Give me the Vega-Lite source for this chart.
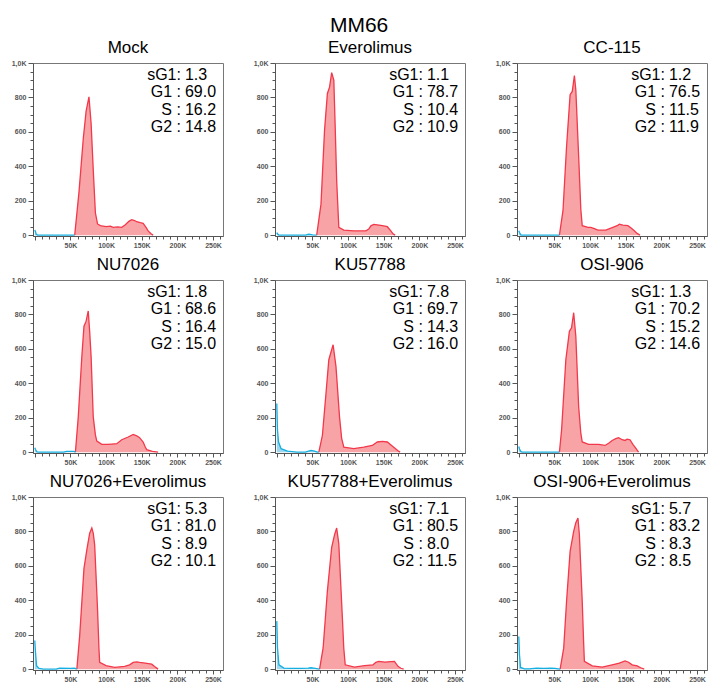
{
  "$schema": "https://vega.github.io/schema/vega-lite/v6.json",
  "title": {"text": "MM66", "fontSize": 21, "fontWeight": "normal", "font": "Liberation Sans", "anchor": "middle", "offset": 3, "color": "#000"},
  "padding": {"left": 10, "top": 14, "right": 8, "bottom": 5},
  "data": {"values": [
    {"p":"Mock","s":"G","x":56,"y":0},{"p":"Mock","s":"G","x":62,"y":250},{"p":"Mock","s":"G","x":68,"y":560},{"p":"Mock","s":"G","x":72,"y":720},{"p":"Mock","s":"G","x":76,"y":803},{"p":"Mock","s":"G","x":79,"y":650},{"p":"Mock","s":"G","x":82,"y":380},{"p":"Mock","s":"G","x":85,"y":130},{"p":"Mock","s":"G","x":88,"y":65},{"p":"Mock","s":"G","x":92,"y":55},{"p":"Mock","s":"G","x":100,"y":49},{"p":"Mock","s":"G","x":106,"y":52},{"p":"Mock","s":"G","x":110,"y":45},{"p":"Mock","s":"G","x":116,"y":48},{"p":"Mock","s":"G","x":122,"y":45},{"p":"Mock","s":"G","x":127,"y":60},{"p":"Mock","s":"G","x":132,"y":80},{"p":"Mock","s":"G","x":136,"y":90},{"p":"Mock","s":"G","x":140,"y":85},{"p":"Mock","s":"G","x":143,"y":78},{"p":"Mock","s":"G","x":148,"y":72},{"p":"Mock","s":"G","x":152,"y":68},{"p":"Mock","s":"G","x":156,"y":45},{"p":"Mock","s":"G","x":159,"y":25},{"p":"Mock","s":"G","x":163,"y":8},{"p":"Mock","s":"G","x":166,"y":0},
    {"p":"Mock","s":"D","x":0,"y":30},{"p":"Mock","s":"D","x":1,"y":20},{"p":"Mock","s":"D","x":2,"y":5},{"p":"Mock","s":"D","x":4,"y":0},{"p":"Mock","s":"D","x":56,"y":0},
    {"p":"Everolimus","s":"G","x":56,"y":0},{"p":"Everolimus","s":"G","x":62,"y":180},{"p":"Everolimus","s":"G","x":67,"y":610},{"p":"Everolimus","s":"G","x":71,"y":823},{"p":"Everolimus","s":"G","x":74,"y":860},{"p":"Everolimus","s":"G","x":77,"y":944},{"p":"Everolimus","s":"G","x":80,"y":900},{"p":"Everolimus","s":"G","x":82,"y":620},{"p":"Everolimus","s":"G","x":84,"y":317},{"p":"Everolimus","s":"G","x":87,"y":45},{"p":"Everolimus","s":"G","x":94,"y":29},{"p":"Everolimus","s":"G","x":108,"y":25},{"p":"Everolimus","s":"G","x":125,"y":25},{"p":"Everolimus","s":"G","x":129,"y":35},{"p":"Everolimus","s":"G","x":132,"y":54},{"p":"Everolimus","s":"G","x":136,"y":62},{"p":"Everolimus","s":"G","x":141,"y":60},{"p":"Everolimus","s":"G","x":148,"y":55},{"p":"Everolimus","s":"G","x":155,"y":49},{"p":"Everolimus","s":"G","x":160,"y":25},{"p":"Everolimus","s":"G","x":163,"y":8},{"p":"Everolimus","s":"G","x":166,"y":0},
    {"p":"Everolimus","s":"D","x":0,"y":15},{"p":"Everolimus","s":"D","x":1,"y":8},{"p":"Everolimus","s":"D","x":3,"y":0},{"p":"Everolimus","s":"D","x":40,"y":0},{"p":"Everolimus","s":"D","x":45,"y":5},{"p":"Everolimus","s":"D","x":50,"y":2},{"p":"Everolimus","s":"D","x":56,"y":0},
    {"p":"CC-115","s":"G","x":57,"y":0},{"p":"CC-115","s":"G","x":62,"y":142},{"p":"CC-115","s":"G","x":67,"y":513},{"p":"CC-115","s":"G","x":72,"y":816},{"p":"CC-115","s":"G","x":75,"y":835},{"p":"CC-115","s":"G","x":78,"y":927},{"p":"CC-115","s":"G","x":80,"y":845},{"p":"CC-115","s":"G","x":84,"y":455},{"p":"CC-115","s":"G","x":87,"y":150},{"p":"CC-115","s":"G","x":89,"y":55},{"p":"CC-115","s":"G","x":97,"y":45},{"p":"CC-115","s":"G","x":101,"y":45},{"p":"CC-115","s":"G","x":106,"y":38},{"p":"CC-115","s":"G","x":111,"y":29},{"p":"CC-115","s":"G","x":122,"y":29},{"p":"CC-115","s":"G","x":132,"y":45},{"p":"CC-115","s":"G","x":138,"y":55},{"p":"CC-115","s":"G","x":141,"y":64},{"p":"CC-115","s":"G","x":146,"y":58},{"p":"CC-115","s":"G","x":153,"y":55},{"p":"CC-115","s":"G","x":158,"y":40},{"p":"CC-115","s":"G","x":162,"y":25},{"p":"CC-115","s":"G","x":166,"y":10},{"p":"CC-115","s":"G","x":170,"y":0},
    {"p":"CC-115","s":"D","x":0,"y":25},{"p":"CC-115","s":"D","x":1,"y":15},{"p":"CC-115","s":"D","x":3,"y":0},{"p":"CC-115","s":"D","x":57,"y":0},
    {"p":"NU7026","s":"G","x":57,"y":0},{"p":"NU7026","s":"G","x":61,"y":205},{"p":"NU7026","s":"G","x":66,"y":556},{"p":"NU7026","s":"G","x":69,"y":732},{"p":"NU7026","s":"G","x":72,"y":761},{"p":"NU7026","s":"G","x":75,"y":820},{"p":"NU7026","s":"G","x":77,"y":700},{"p":"NU7026","s":"G","x":79,"y":556},{"p":"NU7026","s":"G","x":82,"y":205},{"p":"NU7026","s":"G","x":85,"y":100},{"p":"NU7026","s":"G","x":87,"y":64},{"p":"NU7026","s":"G","x":94,"y":45},{"p":"NU7026","s":"G","x":101,"y":45},{"p":"NU7026","s":"G","x":108,"y":47},{"p":"NU7026","s":"G","x":115,"y":49},{"p":"NU7026","s":"G","x":122,"y":72},{"p":"NU7026","s":"G","x":131,"y":88},{"p":"NU7026","s":"G","x":138,"y":103},{"p":"NU7026","s":"G","x":143,"y":95},{"p":"NU7026","s":"G","x":147,"y":84},{"p":"NU7026","s":"G","x":152,"y":59},{"p":"NU7026","s":"G","x":155,"y":30},{"p":"NU7026","s":"G","x":157,"y":14},{"p":"NU7026","s":"G","x":165,"y":5},{"p":"NU7026","s":"G","x":173,"y":0},
    {"p":"NU7026","s":"D","x":0,"y":25},{"p":"NU7026","s":"D","x":1,"y":15},{"p":"NU7026","s":"D","x":3,"y":2},{"p":"NU7026","s":"D","x":6,"y":0},{"p":"NU7026","s":"D","x":40,"y":0},{"p":"NU7026","s":"D","x":45,"y":4},{"p":"NU7026","s":"D","x":55,"y":4},{"p":"NU7026","s":"D","x":57,"y":0},
    {"p":"KU57788","s":"G","x":59,"y":0},{"p":"KU57788","s":"G","x":64,"y":98},{"p":"KU57788","s":"G","x":69,"y":341},{"p":"KU57788","s":"G","x":73,"y":537},{"p":"KU57788","s":"G","x":79,"y":624},{"p":"KU57788","s":"G","x":83,"y":498},{"p":"KU57788","s":"G","x":88,"y":205},{"p":"KU57788","s":"G","x":91,"y":80},{"p":"KU57788","s":"G","x":94,"y":29},{"p":"KU57788","s":"G","x":108,"y":20},{"p":"KU57788","s":"G","x":122,"y":29},{"p":"KU57788","s":"G","x":134,"y":39},{"p":"KU57788","s":"G","x":141,"y":59},{"p":"KU57788","s":"G","x":148,"y":62},{"p":"KU57788","s":"G","x":155,"y":59},{"p":"KU57788","s":"G","x":164,"y":29},{"p":"KU57788","s":"G","x":170,"y":8},{"p":"KU57788","s":"G","x":173,"y":0},
    {"p":"KU57788","s":"D","x":0,"y":283},{"p":"KU57788","s":"D","x":1,"y":127},{"p":"KU57788","s":"D","x":2.5,"y":59},{"p":"KU57788","s":"D","x":6,"y":20},{"p":"KU57788","s":"D","x":15,"y":6},{"p":"KU57788","s":"D","x":28,"y":0},{"p":"KU57788","s":"D","x":40,"y":0},{"p":"KU57788","s":"D","x":48,"y":10},{"p":"KU57788","s":"D","x":53,"y":6},{"p":"KU57788","s":"D","x":57,"y":0},{"p":"KU57788","s":"D","x":59,"y":0},
    {"p":"OSI-906","s":"G","x":57,"y":0},{"p":"OSI-906","s":"G","x":60,"y":127},{"p":"OSI-906","s":"G","x":66,"y":537},{"p":"OSI-906","s":"G","x":71,"y":702},{"p":"OSI-906","s":"G","x":74,"y":722},{"p":"OSI-906","s":"G","x":77,"y":810},{"p":"OSI-906","s":"G","x":80,"y":673},{"p":"OSI-906","s":"G","x":84,"y":263},{"p":"OSI-906","s":"G","x":87,"y":110},{"p":"OSI-906","s":"G","x":89,"y":59},{"p":"OSI-906","s":"G","x":98,"y":45},{"p":"OSI-906","s":"G","x":112,"y":45},{"p":"OSI-906","s":"G","x":121,"y":39},{"p":"OSI-906","s":"G","x":126,"y":52},{"p":"OSI-906","s":"G","x":131,"y":68},{"p":"OSI-906","s":"G","x":136,"y":78},{"p":"OSI-906","s":"G","x":140,"y":84},{"p":"OSI-906","s":"G","x":145,"y":72},{"p":"OSI-906","s":"G","x":149,"y":68},{"p":"OSI-906","s":"G","x":152,"y":75},{"p":"OSI-906","s":"G","x":156,"y":72},{"p":"OSI-906","s":"G","x":160,"y":45},{"p":"OSI-906","s":"G","x":163,"y":29},{"p":"OSI-906","s":"G","x":168,"y":0},
    {"p":"OSI-906","s":"D","x":0,"y":33},{"p":"OSI-906","s":"D","x":1,"y":18},{"p":"OSI-906","s":"D","x":3,"y":3},{"p":"OSI-906","s":"D","x":5,"y":0},{"p":"OSI-906","s":"D","x":57,"y":0},
    {"p":"NU7026+Everolimus","s":"G","x":59,"y":0},{"p":"NU7026+Everolimus","s":"G","x":63,"y":195},{"p":"NU7026+Everolimus","s":"G","x":69,"y":585},{"p":"NU7026+Everolimus","s":"G","x":73,"y":693},{"p":"NU7026+Everolimus","s":"G","x":77,"y":790},{"p":"NU7026+Everolimus","s":"G","x":80,"y":820},{"p":"NU7026+Everolimus","s":"G","x":82,"y":790},{"p":"NU7026+Everolimus","s":"G","x":84,"y":722},{"p":"NU7026+Everolimus","s":"G","x":88,"y":351},{"p":"NU7026+Everolimus","s":"G","x":90,"y":120},{"p":"NU7026+Everolimus","s":"G","x":91,"y":39},{"p":"NU7026+Everolimus","s":"G","x":100,"y":20},{"p":"NU7026+Everolimus","s":"G","x":112,"y":10},{"p":"NU7026+Everolimus","s":"G","x":126,"y":16},{"p":"NU7026+Everolimus","s":"G","x":133,"y":25},{"p":"NU7026+Everolimus","s":"G","x":138,"y":39},{"p":"NU7026+Everolimus","s":"G","x":143,"y":42},{"p":"NU7026+Everolimus","s":"G","x":147,"y":39},{"p":"NU7026+Everolimus","s":"G","x":155,"y":35},{"p":"NU7026+Everolimus","s":"G","x":164,"y":29},{"p":"NU7026+Everolimus","s":"G","x":168,"y":15},{"p":"NU7026+Everolimus","s":"G","x":173,"y":0},
    {"p":"NU7026+Everolimus","s":"D","x":0,"y":166},{"p":"NU7026+Everolimus","s":"D","x":1,"y":98},{"p":"NU7026+Everolimus","s":"D","x":2.5,"y":20},{"p":"NU7026+Everolimus","s":"D","x":6,"y":4},{"p":"NU7026+Everolimus","s":"D","x":12,"y":0},{"p":"NU7026+Everolimus","s":"D","x":30,"y":0},{"p":"NU7026+Everolimus","s":"D","x":35,"y":6},{"p":"NU7026+Everolimus","s":"D","x":50,"y":5},{"p":"NU7026+Everolimus","s":"D","x":56,"y":6},{"p":"NU7026+Everolimus","s":"D","x":59,"y":0},
    {"p":"KU57788+Everolimus","s":"G","x":60,"y":0},{"p":"KU57788+Everolimus","s":"G","x":65,"y":123},{"p":"KU57788+Everolimus","s":"G","x":71,"y":455},{"p":"KU57788+Everolimus","s":"G","x":77,"y":708},{"p":"KU57788+Everolimus","s":"G","x":81,"y":780},{"p":"KU57788+Everolimus","s":"G","x":84,"y":820},{"p":"KU57788+Everolimus","s":"G","x":87,"y":728},{"p":"KU57788+Everolimus","s":"G","x":92,"y":299},{"p":"KU57788+Everolimus","s":"G","x":94,"y":120},{"p":"KU57788+Everolimus","s":"G","x":96,"y":25},{"p":"KU57788+Everolimus","s":"G","x":109,"y":12},{"p":"KU57788+Everolimus","s":"G","x":123,"y":20},{"p":"KU57788+Everolimus","s":"G","x":135,"y":25},{"p":"KU57788+Everolimus","s":"G","x":139,"y":40},{"p":"KU57788+Everolimus","s":"G","x":143,"y":45},{"p":"KU57788+Everolimus","s":"G","x":152,"y":41},{"p":"KU57788+Everolimus","s":"G","x":160,"y":44},{"p":"KU57788+Everolimus","s":"G","x":165,"y":45},{"p":"KU57788+Everolimus","s":"G","x":170,"y":16},{"p":"KU57788+Everolimus","s":"G","x":174,"y":5},{"p":"KU57788+Everolimus","s":"G","x":178,"y":0},
    {"p":"KU57788+Everolimus","s":"D","x":0,"y":279},{"p":"KU57788+Everolimus","s":"D","x":1,"y":123},{"p":"KU57788+Everolimus","s":"D","x":3,"y":25},{"p":"KU57788+Everolimus","s":"D","x":10,"y":6},{"p":"KU57788+Everolimus","s":"D","x":20,"y":4},{"p":"KU57788+Everolimus","s":"D","x":35,"y":4},{"p":"KU57788+Everolimus","s":"D","x":44,"y":6},{"p":"KU57788+Everolimus","s":"D","x":48,"y":8},{"p":"KU57788+Everolimus","s":"D","x":54,"y":4},{"p":"KU57788+Everolimus","s":"D","x":60,"y":0},
    {"p":"OSI-906+Everolimus","s":"G","x":58,"y":0},{"p":"OSI-906+Everolimus","s":"G","x":63,"y":122},{"p":"OSI-906+Everolimus","s":"G","x":67,"y":393},{"p":"OSI-906+Everolimus","s":"G","x":72,"y":684},{"p":"OSI-906+Everolimus","s":"G","x":77,"y":800},{"p":"OSI-906+Everolimus","s":"G","x":80,"y":850},{"p":"OSI-906+Everolimus","s":"G","x":83,"y":878},{"p":"OSI-906+Everolimus","s":"G","x":85,"y":781},{"p":"OSI-906+Everolimus","s":"G","x":89,"y":393},{"p":"OSI-906+Everolimus","s":"G","x":91,"y":150},{"p":"OSI-906+Everolimus","s":"G","x":92,"y":45},{"p":"OSI-906+Everolimus","s":"G","x":103,"y":19},{"p":"OSI-906+Everolimus","s":"G","x":117,"y":12},{"p":"OSI-906+Everolimus","s":"G","x":131,"y":25},{"p":"OSI-906+Everolimus","s":"G","x":141,"y":35},{"p":"OSI-906+Everolimus","s":"G","x":149,"y":48},{"p":"OSI-906+Everolimus","s":"G","x":154,"y":40},{"p":"OSI-906+Everolimus","s":"G","x":159,"y":25},{"p":"OSI-906+Everolimus","s":"G","x":166,"y":19},{"p":"OSI-906+Everolimus","s":"G","x":171,"y":8},{"p":"OSI-906+Everolimus","s":"G","x":176,"y":0},
    {"p":"OSI-906+Everolimus","s":"D","x":0,"y":190},{"p":"OSI-906+Everolimus","s":"D","x":1,"y":83},{"p":"OSI-906+Everolimus","s":"D","x":2.5,"y":10},{"p":"OSI-906+Everolimus","s":"D","x":8,"y":2},{"p":"OSI-906+Everolimus","s":"D","x":15,"y":2},{"p":"OSI-906+Everolimus","s":"D","x":25,"y":6},{"p":"OSI-906+Everolimus","s":"D","x":35,"y":5},{"p":"OSI-906+Everolimus","s":"D","x":45,"y":6},{"p":"OSI-906+Everolimus","s":"D","x":51,"y":4},{"p":"OSI-906+Everolimus","s":"D","x":58,"y":0},
    {"p":"Mock","s":"stat","k":"sG1:","v":1.3},{"p":"Mock","s":"stat","k":"G1 :","v":69.0},{"p":"Mock","s":"stat","k":"S :","v":16.2},{"p":"Mock","s":"stat","k":"G2 :","v":14.8},
    {"p":"Everolimus","s":"stat","k":"sG1:","v":1.1},{"p":"Everolimus","s":"stat","k":"G1 :","v":78.7},{"p":"Everolimus","s":"stat","k":"S :","v":10.4},{"p":"Everolimus","s":"stat","k":"G2 :","v":10.9},
    {"p":"CC-115","s":"stat","k":"sG1:","v":1.2},{"p":"CC-115","s":"stat","k":"G1 :","v":76.5},{"p":"CC-115","s":"stat","k":"S :","v":11.5},{"p":"CC-115","s":"stat","k":"G2 :","v":11.9},
    {"p":"NU7026","s":"stat","k":"sG1:","v":1.8},{"p":"NU7026","s":"stat","k":"G1 :","v":68.6},{"p":"NU7026","s":"stat","k":"S :","v":16.4},{"p":"NU7026","s":"stat","k":"G2 :","v":15.0},
    {"p":"KU57788","s":"stat","k":"sG1:","v":7.8},{"p":"KU57788","s":"stat","k":"G1 :","v":69.7},{"p":"KU57788","s":"stat","k":"S :","v":14.3},{"p":"KU57788","s":"stat","k":"G2 :","v":16.0},
    {"p":"OSI-906","s":"stat","k":"sG1:","v":1.3},{"p":"OSI-906","s":"stat","k":"G1 :","v":70.2},{"p":"OSI-906","s":"stat","k":"S :","v":15.2},{"p":"OSI-906","s":"stat","k":"G2 :","v":14.6},
    {"p":"NU7026+Everolimus","s":"stat","k":"sG1:","v":5.3},{"p":"NU7026+Everolimus","s":"stat","k":"G1 :","v":81.0},{"p":"NU7026+Everolimus","s":"stat","k":"S :","v":8.9},{"p":"NU7026+Everolimus","s":"stat","k":"G2 :","v":10.1},
    {"p":"KU57788+Everolimus","s":"stat","k":"sG1:","v":7.1},{"p":"KU57788+Everolimus","s":"stat","k":"G1 :","v":80.5},{"p":"KU57788+Everolimus","s":"stat","k":"S :","v":8.0},{"p":"KU57788+Everolimus","s":"stat","k":"G2 :","v":11.5},
    {"p":"OSI-906+Everolimus","s":"stat","k":"sG1:","v":5.7},{"p":"OSI-906+Everolimus","s":"stat","k":"G1 :","v":83.2},{"p":"OSI-906+Everolimus","s":"stat","k":"S :","v":8.3},{"p":"OSI-906+Everolimus","s":"stat","k":"G2 :","v":8.5}
  ]},
  "facet": {
    "field": "p", "type": "nominal",
    "sort": ["Mock","Everolimus","CC-115","NU7026","KU57788","OSI-906","NU7026+Everolimus","KU57788+Everolimus","OSI-906+Everolimus"],
    "header": {"title": null, "labelFont": "Liberation Sans", "labelFontSize": 17, "labelPadding": 2, "labelColor": "#000"}
  },
  "columns": 3,
  "spacing": {"row": 6, "column": 28},
  "resolve": {"scale": {"x": "independent", "y": "independent"}, "axis": {"x": "independent", "y": "independent"}},
  "spec": {
    "width": 190,
    "height": 173,
    "layer": [
      {
        "transform": [{"filter": "datum.s === 'G'"}],
        "mark": {"type": "area", "color": "#f8a4a7", "opacity": 1, "line": {"color": "#f2384a", "strokeWidth": 1.3}},
        "encoding": {
          "x": {"field": "x", "type": "quantitative", "scale": {"domain": [-2.5, 264], "nice": false, "zero": false},
            "axis": {"title": null, "grid": false, "values": [0,10,20,30,40,50,60,70,80,90,100,110,120,130,140,150,160,170,180,190,200,210,220,230,240,250,260],
              "labelExpr": "datum.value > 0 && datum.value % 50 === 0 ? datum.value + 'K' : ''",
              "tickSize": {"condition": {"test": "datum.value % 50 === 0", "value": 4}, "value": 3},
              "labelOverlap": false, "labelFlush": false, "labelFontSize": 7, "labelFontWeight": "bold", "labelColor": "#555", "labelPadding": 1,
              "domainColor": "#555", "tickColor": "#555"}},
          "y": {"field": "y", "type": "quantitative", "scale": {"domain": [-5, 1000], "nice": false},
            "axis": {"title": null, "grid": false, "values": [0,50,100,150,200,250,300,350,400,450,500,550,600,650,700,750,800,850,900,950,1000],
              "labelExpr": "datum.value === 1000 ? '1,0K' : (datum.value % 200 === 0 ? datum.label : '')",
              "tickSize": {"condition": {"test": "datum.value % 200 === 0", "value": 5}, "value": 3},
              "labelOverlap": false, "labelFlush": false, "labelFontSize": 7, "labelFontWeight": "bold", "labelColor": "#555", "labelPadding": 2,
              "domainColor": "#555", "tickColor": "#555"}}
        }
      },
      {
        "transform": [{"filter": "datum.s === 'D'"}],
        "mark": {"type": "area", "color": "#9fd8ee", "opacity": 1, "line": {"color": "#15aee0", "strokeWidth": 1.3}},
        "encoding": {
          "x": {"field": "x", "type": "quantitative", "scale": {"domain": [-2.5, 264], "nice": false, "zero": false}, "axis": null},
          "y": {"field": "y", "type": "quantitative", "scale": {"domain": [-5, 1000], "nice": false}, "axis": null}
        }
      },
      {
        "transform": [{"filter": "datum.s === 'stat'"}],
        "mark": {"type": "text", "align": "right", "baseline": "middle", "fontSize": 16, "font": "Liberation Sans", "color": "#000"},
        "encoding": {
          "x": {"datum": 205, "type": "quantitative", "scale": {"domain": [-2.5, 264], "nice": false, "zero": false}, "axis": null},
          "y": {"field": "k", "type": "ordinal", "sort": ["sG1:","G1 :","S :","G2 :"], "scale": {"type": "point", "range": [12, 64], "padding": 0}, "axis": null},
          "text": {"field": "k"}
        }
      },
      {
        "transform": [{"filter": "datum.s === 'stat'"}],
        "mark": {"type": "text", "align": "left", "baseline": "middle", "dx": 4, "fontSize": 16, "font": "Liberation Sans", "color": "#000"},
        "encoding": {
          "x": {"datum": 205, "type": "quantitative", "scale": {"domain": [-2.5, 264], "nice": false, "zero": false}, "axis": null},
          "y": {"field": "k", "type": "ordinal", "sort": ["sG1:","G1 :","S :","G2 :"], "scale": {"type": "point", "range": [12, 64], "padding": 0}, "axis": null},
          "text": {"field": "v", "type": "quantitative", "format": ".1f"}
        }
      }
    ],
    "resolve": {"scale": {"x": "independent", "y": "independent"}}
  },
  "config": {
    "font": "Liberation Sans",
    "view": {"stroke": "#777", "strokeWidth": 1},
    "background": "#ffffff"
  }
}
